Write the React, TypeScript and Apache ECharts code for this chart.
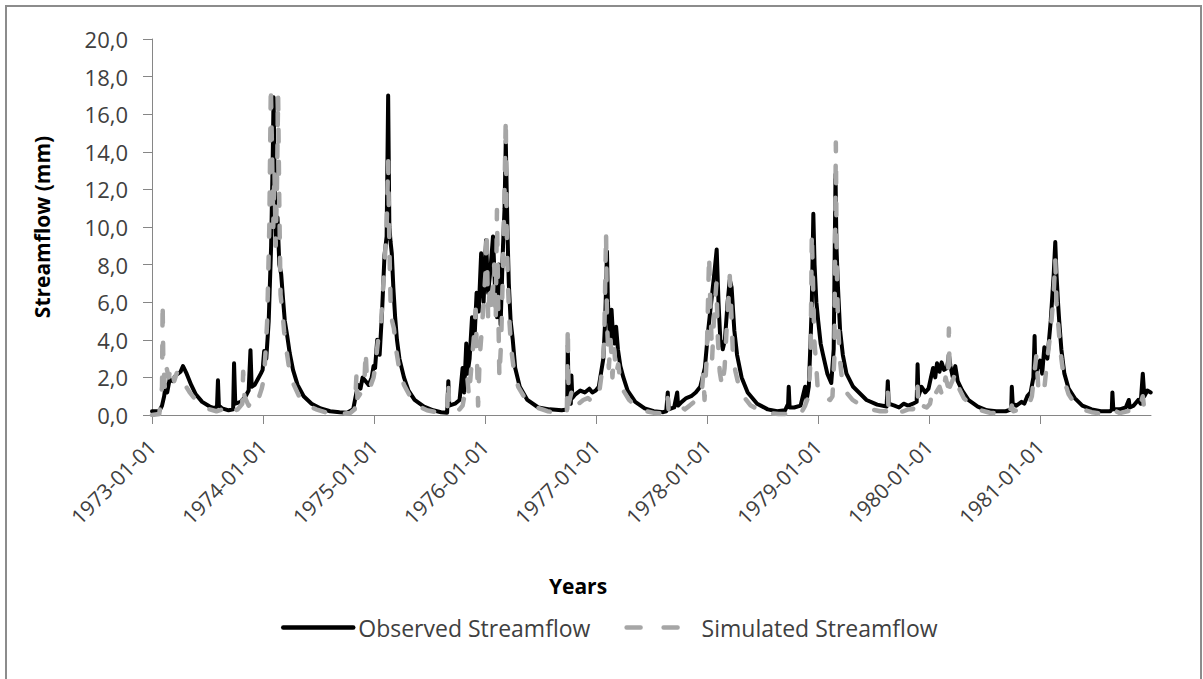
import React, { useEffect, useRef } from "react";
import * as echarts from "echarts";

const observedFlow: [string, number][] = [
  ["1973-01-01", 0.2], ["1973-01-25", 0.2], ["1973-02-03", 0.5], ["1973-02-10", 1.0], ["1973-02-15", 1.6],
  ["1973-02-20", 1.2], ["1973-02-28", 1.9], ["1973-03-10", 1.8], ["1973-03-20", 2.1], ["1973-04-05", 2.3],
  ["1973-04-13", 2.6], ["1973-04-25", 2.2], ["1973-05-10", 1.6], ["1973-05-25", 1.1], ["1973-06-15", 0.7],
  ["1973-07-10", 0.45], ["1973-07-28", 0.35], ["1973-08-03", 0.5], ["1973-08-06", 1.85], ["1973-08-09", 0.5],
  ["1973-08-20", 0.35], ["1973-09-10", 0.25], ["1973-09-25", 0.3], ["1973-09-28", 2.75], ["1973-10-02", 0.6],
  ["1973-10-20", 0.7], ["1973-11-05", 1.0], ["1973-11-15", 1.3], ["1973-11-21", 3.45], ["1973-11-25", 1.5],
  ["1973-12-05", 1.6], ["1973-12-15", 1.9], ["1973-12-25", 2.2], ["1973-12-31", 2.4],
  ["1974-01-05", 3.4], ["1974-01-12", 3.0], ["1974-01-20", 5.0], ["1974-01-28", 9.0], ["1974-02-02", 13.5],
  ["1974-02-05", 16.9], ["1974-02-09", 12.0], ["1974-02-13", 9.5], ["1974-02-18", 10.5], ["1974-02-24", 8.0],
  ["1974-03-02", 7.5], ["1974-03-08", 6.2], ["1974-03-14", 5.0], ["1974-03-22", 4.2], ["1974-03-30", 3.3],
  ["1974-04-10", 2.4], ["1974-04-25", 1.6], ["1974-05-15", 1.0], ["1974-06-10", 0.6], ["1974-07-10", 0.35],
  ["1974-08-10", 0.2], ["1974-09-10", 0.15], ["1974-10-05", 0.12], ["1974-10-25", 0.3], ["1974-11-01", 0.9],
  ["1974-11-10", 1.6], ["1974-11-18", 1.4], ["1974-11-25", 2.0], ["1974-12-05", 1.8], ["1974-12-15", 1.6],
  ["1974-12-25", 2.0], ["1974-12-31", 2.6],
  ["1975-01-05", 2.5], ["1975-01-12", 4.0], ["1975-01-20", 3.2], ["1975-01-28", 5.5], ["1975-02-05", 8.5],
  ["1975-02-12", 9.5], ["1975-02-17", 17.0], ["1975-02-21", 10.0], ["1975-02-25", 9.2], ["1975-03-01", 8.6],
  ["1975-03-06", 6.8], ["1975-03-12", 5.2], ["1975-03-18", 4.0], ["1975-03-26", 3.0], ["1975-04-10", 2.0],
  ["1975-04-25", 1.3], ["1975-05-15", 0.8], ["1975-06-15", 0.45], ["1975-07-15", 0.25], ["1975-08-10", 0.15],
  ["1975-08-30", 0.12], ["1975-09-03", 1.8], ["1975-09-06", 0.5], ["1975-09-25", 0.6], ["1975-10-10", 0.8],
  ["1975-10-20", 2.5], ["1975-10-25", 1.2], ["1975-11-01", 3.8], ["1975-11-05", 2.2], ["1975-11-12", 3.0],
  ["1975-11-20", 5.2], ["1975-11-28", 4.0], ["1975-12-05", 6.5], ["1975-12-12", 5.5], ["1975-12-20", 8.6],
  ["1975-12-28", 6.0],
  ["1976-01-05", 9.3], ["1976-01-12", 6.5], ["1976-01-20", 7.8], ["1976-01-28", 9.5], ["1976-02-03", 7.0],
  ["1976-02-10", 5.2], ["1976-02-16", 8.0], ["1976-02-22", 4.8], ["1976-03-01", 9.0], ["1976-03-06", 11.0],
  ["1976-03-10", 14.6], ["1976-03-13", 12.0], ["1976-03-16", 9.5], ["1976-03-20", 7.0], ["1976-03-26", 5.0],
  ["1976-04-02", 4.0], ["1976-04-10", 2.5], ["1976-04-25", 1.5], ["1976-05-20", 0.8], ["1976-06-25", 0.4],
  ["1976-08-01", 0.3], ["1976-09-10", 0.25], ["1976-09-28", 0.3], ["1976-09-30", 3.7], ["1976-10-03", 0.8],
  ["1976-10-10", 0.6], ["1976-10-12", 2.1], ["1976-10-15", 0.9], ["1976-10-25", 1.1], ["1976-11-10", 1.3],
  ["1976-11-25", 1.2], ["1976-12-10", 1.4], ["1976-12-20", 1.2], ["1976-12-31", 1.3],
  ["1977-01-10", 1.5], ["1977-01-25", 3.0], ["1977-01-31", 5.0], ["1977-02-06", 8.7], ["1977-02-09", 6.0],
  ["1977-02-12", 5.2], ["1977-02-16", 4.0], ["1977-02-21", 5.6], ["1977-02-26", 4.2], ["1977-03-03", 3.8],
  ["1977-03-08", 4.7], ["1977-03-14", 3.5], ["1977-03-22", 2.6], ["1977-04-01", 2.0], ["1977-04-15", 1.3],
  ["1977-05-10", 0.7], ["1977-06-10", 0.35], ["1977-07-10", 0.2], ["1977-08-10", 0.15], ["1977-08-20", 0.2],
  ["1977-08-25", 1.2], ["1977-08-28", 0.3], ["1977-09-15", 0.4], ["1977-09-25", 1.2], ["1977-09-28", 0.5],
  ["1977-10-10", 0.7], ["1977-10-25", 0.9], ["1977-11-10", 1.0], ["1977-11-25", 1.2], ["1977-12-10", 1.5],
  ["1977-12-25", 2.5],
  ["1978-01-05", 4.5], ["1978-01-15", 6.0], ["1978-01-25", 7.5], ["1978-02-02", 8.8], ["1978-02-08", 6.0],
  ["1978-02-14", 4.0], ["1978-02-22", 3.5], ["1978-03-01", 4.0], ["1978-03-10", 6.0], ["1978-03-17", 7.2],
  ["1978-03-23", 6.8], ["1978-04-01", 4.5], ["1978-04-10", 3.2], ["1978-04-25", 2.0], ["1978-05-15", 1.2],
  ["1978-06-15", 0.6], ["1978-07-20", 0.3], ["1978-08-20", 0.2], ["1978-09-15", 0.25], ["1978-09-25", 0.6],
  ["1978-09-27", 1.5], ["1978-09-30", 0.4], ["1978-10-15", 0.4], ["1978-11-05", 0.5], ["1978-11-20", 1.5],
  ["1978-11-25", 0.8], ["1978-12-02", 1.5], ["1978-12-08", 4.0], ["1978-12-12", 6.0], ["1978-12-17", 10.7],
  ["1978-12-21", 8.0], ["1978-12-27", 6.0],
  ["1979-01-02", 5.0], ["1979-01-10", 3.8], ["1979-01-18", 3.2], ["1979-02-01", 2.2], ["1979-02-14", 1.7],
  ["1979-02-22", 3.5], ["1979-02-28", 12.8], ["1979-03-03", 9.0], ["1979-03-08", 6.8], ["1979-03-15", 4.5],
  ["1979-03-24", 3.2], ["1979-04-05", 2.2], ["1979-04-27", 1.5], ["1979-06-10", 0.8], ["1979-07-15", 0.55],
  ["1979-08-15", 0.45], ["1979-08-19", 1.8], ["1979-08-22", 0.6], ["1979-09-10", 0.5], ["1979-09-25", 0.4],
  ["1979-10-10", 0.6], ["1979-10-25", 0.5], ["1979-11-10", 0.6], ["1979-11-22", 0.7], ["1979-11-25", 2.7],
  ["1979-11-28", 1.0], ["1979-12-08", 1.5], ["1979-12-20", 1.2], ["1979-12-31", 1.4],
  ["1980-01-08", 2.0], ["1980-01-15", 2.5], ["1980-01-22", 2.0], ["1980-01-28", 2.75], ["1980-02-05", 2.3],
  ["1980-02-12", 2.8], ["1980-02-20", 2.4], ["1980-03-01", 2.5], ["1980-03-07", 3.2], ["1980-03-12", 2.6],
  ["1980-03-20", 2.0], ["1980-03-28", 2.6], ["1980-04-05", 1.8], ["1980-04-20", 1.3], ["1980-05-10", 0.8],
  ["1980-06-10", 0.45], ["1980-07-10", 0.25], ["1980-08-10", 0.2], ["1980-09-10", 0.2], ["1980-09-28", 0.3],
  ["1980-09-30", 1.5], ["1980-10-03", 0.6], ["1980-10-15", 0.5], ["1980-11-01", 0.7], ["1980-11-10", 0.6],
  ["1980-11-20", 1.0], ["1980-12-01", 1.2], ["1980-12-10", 2.0], ["1980-12-14", 4.2], ["1980-12-17", 2.0],
  ["1980-12-24", 2.6],
  ["1981-01-01", 2.9], ["1981-01-08", 2.2], ["1981-01-15", 3.6], ["1981-01-25", 3.0], ["1981-02-05", 5.0],
  ["1981-02-15", 7.5], ["1981-02-20", 9.2], ["1981-02-24", 7.5], ["1981-03-01", 6.0], ["1981-03-05", 5.0],
  ["1981-03-12", 3.5], ["1981-03-22", 2.2], ["1981-04-05", 1.4], ["1981-04-25", 0.9], ["1981-05-20", 0.5],
  ["1981-06-20", 0.3], ["1981-07-20", 0.2], ["1981-08-20", 0.2], ["1981-08-25", 0.3], ["1981-08-27", 1.2],
  ["1981-08-30", 0.3], ["1981-09-20", 0.3], ["1981-10-10", 0.4], ["1981-10-20", 0.8], ["1981-10-23", 0.4],
  ["1981-11-05", 0.5], ["1981-11-20", 0.8], ["1981-11-28", 0.6], ["1981-12-05", 2.2], ["1981-12-10", 1.0],
  ["1981-12-20", 1.3], ["1981-12-31", 1.2],
];

const simulatedFlow: [string, number][] = [
  ["1973-01-01", 0.0], ["1973-01-25", 0.05], ["1973-02-03", 1.5], ["1973-02-05", 6.0], ["1973-02-07", 3.0],
  ["1973-02-12", 1.5], ["1973-02-18", 2.5], ["1973-02-25", 2.0], ["1973-03-05", 2.6], ["1973-03-15", 1.8],
  ["1973-03-25", 2.3], ["1973-04-10", 2.0], ["1973-04-20", 1.6], ["1973-05-05", 1.2], ["1973-05-25", 0.8],
  ["1973-06-15", 0.5], ["1973-07-10", 0.3], ["1973-08-01", 0.2], ["1973-08-20", 0.3], ["1973-09-05", 0.5],
  ["1973-09-10", 0.3], ["1973-09-25", 0.2], ["1973-10-10", 0.3], ["1973-10-25", 0.6], ["1973-10-28", 2.3],
  ["1973-11-01", 1.0], ["1973-11-15", 0.5], ["1973-11-28", 0.8], ["1973-12-10", 0.6], ["1973-12-20", 1.0],
  ["1973-12-28", 1.4],
  ["1974-01-05", 2.0], ["1974-01-15", 5.0], ["1974-01-22", 10.0], ["1974-01-27", 17.5], ["1974-01-31", 14.0],
  ["1974-02-04", 10.0], ["1974-02-08", 13.0], ["1974-02-12", 9.0], ["1974-02-16", 12.0], ["1974-02-20", 17.0],
  ["1974-02-24", 11.0], ["1974-02-28", 6.4], ["1974-03-06", 5.5], ["1974-03-12", 4.4], ["1974-03-20", 3.4],
  ["1974-03-28", 2.5], ["1974-04-10", 1.7], ["1974-04-30", 1.0], ["1974-05-25", 0.55], ["1974-06-25", 0.3],
  ["1974-07-25", 0.15], ["1974-08-25", 0.1], ["1974-09-25", 0.08], ["1974-10-15", 0.1], ["1974-10-30", 0.3],
  ["1974-11-05", 2.2], ["1974-11-08", 0.9], ["1974-11-20", 1.2], ["1974-12-01", 1.8], ["1974-12-05", 3.4],
  ["1974-12-10", 1.6], ["1974-12-20", 1.5], ["1974-12-31", 2.0],
  ["1975-01-05", 2.5], ["1975-01-15", 4.0], ["1975-01-25", 5.0], ["1975-02-05", 8.0], ["1975-02-12", 10.0],
  ["1975-02-17", 13.5], ["1975-02-21", 9.0], ["1975-02-25", 6.0], ["1975-03-02", 5.0], ["1975-03-08", 4.6],
  ["1975-03-15", 3.5], ["1975-03-25", 2.5], ["1975-04-10", 1.6], ["1975-04-30", 1.0], ["1975-05-25", 0.5],
  ["1975-06-25", 0.25], ["1975-07-25", 0.15], ["1975-08-30", 0.1], ["1975-09-03", 1.8], ["1975-09-06", 0.3],
  ["1975-09-25", 0.2], ["1975-10-10", 0.3], ["1975-10-20", 0.5], ["1975-10-28", 1.2], ["1975-11-05", 1.9],
  ["1975-11-10", 1.0], ["1975-11-20", 3.0], ["1975-11-28", 4.5], ["1975-12-02", 5.6], ["1975-12-06", 3.2],
  ["1975-12-10", 0.5], ["1975-12-15", 3.0], ["1975-12-22", 4.5], ["1975-12-28", 6.0],
  ["1976-01-03", 7.5], ["1976-01-07", 9.8], ["1976-01-12", 5.0], ["1976-01-18", 7.0], ["1976-01-25", 5.5],
  ["1976-02-01", 8.0], ["1976-02-06", 5.0], ["1976-02-10", 10.9], ["1976-02-14", 6.0], ["1976-02-18", 2.0],
  ["1976-02-24", 4.0], ["1976-03-01", 8.0], ["1976-03-06", 12.0], ["1976-03-10", 15.8], ["1976-03-13", 10.0],
  ["1976-03-17", 7.0], ["1976-03-22", 5.0], ["1976-03-28", 3.5], ["1976-04-05", 2.5], ["1976-04-20", 1.5],
  ["1976-05-15", 0.8], ["1976-06-20", 0.4], ["1976-07-25", 0.2], ["1976-09-01", 0.1], ["1976-09-27", 0.1],
  ["1976-09-30", 4.7], ["1976-10-03", 0.6], ["1976-10-12", 1.2], ["1976-10-20", 0.5], ["1976-11-05", 0.6],
  ["1976-11-20", 0.8], ["1976-12-05", 0.9], ["1976-12-20", 0.7], ["1976-12-31", 0.8],
  ["1977-01-10", 1.0], ["1977-01-22", 2.5], ["1977-01-28", 4.0], ["1977-02-03", 9.7], ["1977-02-06", 5.0],
  ["1977-02-12", 2.5], ["1977-02-18", 4.0], ["1977-02-24", 2.0], ["1977-03-02", 3.5], ["1977-03-08", 2.2],
  ["1977-03-15", 2.7], ["1977-03-22", 1.8], ["1977-04-01", 1.3], ["1977-04-20", 0.8], ["1977-05-15", 0.4],
  ["1977-06-15", 0.2], ["1977-07-15", 0.1], ["1977-08-15", 0.08], ["1977-08-25", 0.9], ["1977-08-28", 0.2],
  ["1977-09-20", 0.3], ["1977-10-05", 0.5], ["1977-10-20", 0.3], ["1977-11-05", 0.5], ["1977-11-20", 0.7],
  ["1977-12-05", 0.8], ["1977-12-15", 1.2], ["1977-12-20", 2.2], ["1977-12-24", 0.8], ["1977-12-31", 3.0],
  ["1978-01-03", 5.0], ["1978-01-08", 8.5], ["1978-01-12", 6.0], ["1978-01-18", 3.0], ["1978-01-25", 5.5],
  ["1978-02-01", 7.0], ["1978-02-06", 4.0], ["1978-02-12", 2.3], ["1978-02-20", 1.5], ["1978-02-28", 2.5],
  ["1978-03-08", 5.0], ["1978-03-17", 7.4], ["1978-03-22", 5.5], ["1978-03-28", 3.0], ["1978-04-05", 2.3],
  ["1978-04-15", 1.6], ["1978-05-01", 1.0], ["1978-05-25", 0.5], ["1978-06-25", 0.25], ["1978-07-25", 0.1],
  ["1978-08-25", 0.05], ["1978-09-25", 0.05], ["1978-10-15", 0.1], ["1978-10-25", 0.3], ["1978-11-10", 0.2],
  ["1978-11-20", 0.5], ["1978-12-01", 1.0], ["1978-12-08", 3.0], ["1978-12-12", 9.7], ["1978-12-16", 7.0],
  ["1978-12-20", 4.0], ["1978-12-25", 3.0], ["1978-12-31", 1.5],
  ["1979-01-05", 1.2], ["1979-01-15", 1.0], ["1979-01-30", 0.9], ["1979-02-10", 0.8], ["1979-02-18", 1.0],
  ["1979-02-24", 3.0], ["1979-03-01", 14.5], ["1979-03-04", 8.0], ["1979-03-08", 5.0], ["1979-03-14", 3.0],
  ["1979-03-22", 1.8], ["1979-04-05", 1.2], ["1979-04-25", 0.8], ["1979-05-25", 0.5], ["1979-06-25", 0.3],
  ["1979-07-25", 0.2], ["1979-08-16", 0.2], ["1979-08-19", 1.2], ["1979-08-22", 0.2], ["1979-09-15", 0.15],
  ["1979-10-10", 0.2], ["1979-10-25", 0.3], ["1979-11-10", 0.3], ["1979-11-25", 1.5], ["1979-11-28", 0.3],
  ["1979-12-10", 0.5], ["1979-12-25", 0.4],
  ["1980-01-05", 0.6], ["1980-01-15", 1.5], ["1980-01-25", 1.2], ["1980-02-05", 1.5], ["1980-02-15", 1.0],
  ["1980-02-25", 2.0], ["1980-03-04", 1.5], ["1980-03-07", 4.6], ["1980-03-10", 1.5], ["1980-03-18", 1.8],
  ["1980-03-28", 2.2], ["1980-04-10", 1.4], ["1980-04-25", 0.9], ["1980-05-20", 0.5], ["1980-06-20", 0.25],
  ["1980-07-20", 0.12], ["1980-08-20", 0.08], ["1980-09-20", 0.08], ["1980-09-30", 0.5], ["1980-10-05", 0.2],
  ["1980-10-25", 0.3], ["1980-11-10", 0.4], ["1980-11-25", 0.5], ["1980-12-05", 1.0], ["1980-12-12", 2.0],
  ["1980-12-20", 3.2], ["1980-12-26", 1.5],
  ["1981-01-02", 1.6], ["1981-01-08", 1.8], ["1981-01-15", 1.4], ["1981-01-25", 3.0], ["1981-02-05", 4.5],
  ["1981-02-15", 6.5], ["1981-02-20", 8.3], ["1981-02-24", 6.0], ["1981-03-01", 5.0], ["1981-03-06", 4.0],
  ["1981-03-12", 3.0], ["1981-03-22", 1.8], ["1981-04-05", 1.1], ["1981-04-25", 0.6], ["1981-05-20", 0.3],
  ["1981-06-20", 0.15], ["1981-07-20", 0.08], ["1981-08-27", 0.3], ["1981-09-20", 0.1], ["1981-10-15", 0.2],
  ["1981-11-10", 0.3], ["1981-11-25", 0.4], ["1981-12-05", 1.0], ["1981-12-10", 0.3], ["1981-12-20", 0.6],
  ["1981-12-31", 0.5],
];

const yMin = 0;
const yMax = 20;
const yStep = 2;
const xStart = [1973, 0, 1];
const xEnd = [1982, 0, 1];

const FONT = "'Open Sans', 'Liberation Sans', sans-serif";
const pad = (n: number) => (n < 10 ? "0" + n : "" + n);

export default function App() {
  const ref = useRef<HTMLDivElement>(null);
  useEffect(() => {
    if (!ref.current) return;
    const chart = echarts.init(ref.current, undefined, { renderer: "svg" });
    const DAY = 24 * 3600 * 1000;
    const simDash = [14, 23];
    chart.setOption({
      animation: false,
      backgroundColor: "#ffffff",
      textStyle: { fontFamily: FONT },
      grid: { left: 152, right: 52, top: 39, bottom: 264, containLabel: false },
      legend: {
        left: 276,
        top: 611,
        itemWidth: 70,
        itemHeight: 14,
        itemGap: 34,
        itemStyle: { opacity: 0 },
        textStyle: { fontFamily: FONT, fontSize: 23, color: "#404040" },
        data: [
          {
            name: "Observed Streamflow",
            lineStyle: { color: "#000000", width: 4.5, type: "solid", cap: "round" },
          },
          {
            name: "Simulated Streamflow",
            lineStyle: { color: "#a6a6a6", width: 4.5, type: simDash, cap: "round" },
          },
        ],
      },
      xAxis: {
        type: "time",
        min: new Date(xStart[0], xStart[1], xStart[2]).getTime(),
        max: new Date(xEnd[0], xEnd[1], xEnd[2]).getTime(),
        minInterval: 365 * DAY,
        maxInterval: 366 * DAY,
        splitLine: { show: false },
        axisLine: { show: true, lineStyle: { color: "#868686", width: 1 } },
        axisTick: { show: true, length: 9, lineStyle: { color: "#868686" } },
        axisLabel: {
          rotate: 45,
          margin: 28,
          fontSize: 21,
          fontFamily: FONT,
          color: "#404040",
          showMaxLabel: false,
          showMinLabel: true,
          hideOverlap: false,
          formatter: (v: number) => {
            const d = new Date(v);
            return `${d.getFullYear()}-${pad(d.getMonth() + 1)}-${pad(d.getDate())}`;
          },
        },
      },
      yAxis: {
        type: "value",
        min: yMin,
        max: yMax,
        interval: yStep,
        name: "Streamflow (mm)",
        nameLocation: "middle",
        nameGap: 100,
        nameRotate: 90,
        nameTextStyle: { fontFamily: FONT, fontSize: 21, fontWeight: "bold", color: "#000" },
        splitLine: { show: false },
        axisLine: { show: true, lineStyle: { color: "#868686", width: 1 } },
        axisTick: { show: true, length: 9, lineStyle: { color: "#868686" } },
        axisLabel: {
          margin: 24,
          fontSize: 22,
          fontFamily: FONT,
          color: "#404040",
          formatter: (v: number) => v.toFixed(1).replace(".", ","),
        },
      },
      series: [
        {
          name: "Observed Streamflow",
          type: "line",
          data: observedFlow,
          showSymbol: false,
          symbol: "none",
          lineStyle: { color: "#000000", width: 4, join: "round", cap: "round" },
          itemStyle: { color: "#000000" },
        },
        {
          name: "Simulated Streamflow",
          type: "line",
          data: simulatedFlow,
          showSymbol: false,
          symbol: "none",
          lineStyle: { color: "#a6a6a6", width: 4.5, type: [12, 20], cap: "round", join: "round" },
          itemStyle: { color: "#a6a6a6" },
        },
      ],
      graphic: [
        {
          type: "rect",
          shape: { x: 6, y: 6, width: 1195, height: 700 },
          style: { fill: "none", stroke: "#8c8c8c", lineWidth: 2 },
          silent: true,
        },
        {
          type: "text",
          x: 578,
          y: 586,
          style: {
            text: "Years",
            fontFamily: FONT,
            fontSize: 21,
            fontWeight: "bold",
            fill: "#000",
            align: "center",
            verticalAlign: "middle",
          },
        },
      ],
    });
    return () => chart.dispose();
  }, []);
  return (
    <div
      ref={ref}
      style={{ position: "fixed", left: 0, top: 0, width: 1203, height: 679, background: "#fff" }}
    />
  );
}
